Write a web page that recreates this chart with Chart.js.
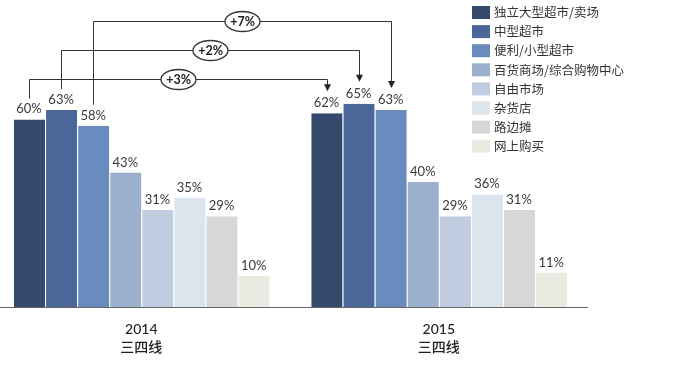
<!DOCTYPE html>
<html><head><meta charset="utf-8">
<script src="https://cdn.jsdelivr.net/npm/chart.js@4"></script>
<style>
html,body{margin:0;padding:0;background:#fff;overflow:hidden;width:680px;height:370px;}
#wrap{position:relative;width:680px;height:370px;overflow:hidden;background:#fff;}
#c{position:absolute;left:-10px;top:0;}
</style></head><body>
<div id="wrap"><canvas id="c" width="690" height="370"></canvas></div>
<script>
const categories = [['2014','三四线'],['2015','三四线']];
const seriesNames = ['独立大型超市/卖场','中型超市','便利/小型超市','百货商场/综合购物中心','自由市场','杂货店','路边摊','网上购买'];
const values2014 = [60,63,58,43,31,35,29,10];
const values2015 = [62,65,63,40,29,36,31,11];
const seriesColors = ['#34496b','#4b6698','#6a8bbd','#9cafcc','#c0cce0','#dce4ee','#d6d7d9','#eaeae3'];
const changeLabels = ['+3%','+2%','+7%'];

const OFFX = 10; // canvas is shifted 10px left of the page

const datasets = seriesNames.map((name, i) => ({
  label: name,
  data: [values2014[i], values2015[i]],
  backgroundColor: seriesColors[i],
  borderColor: 'rgba(255,255,255,0.7)',
  borderWidth: {left: 1, right: 0, top: 0, bottom: 0},
  categoryPercentage: 0.863,
  barPercentage: 1.0
}));

const valueLabels = {
  id: 'valueLabels',
  afterDatasetsDraw(chart) {
    const ctx = chart.ctx;
    ctx.save();
    ctx.font = '13px Lato, "Noto Sans"';
    ctx.fillStyle = '#3a3a3a';
    ctx.textAlign = 'center';
    ctx.textBaseline = 'alphabetic';
    chart.data.datasets.forEach((ds, di) => {
      const meta = chart.getDatasetMeta(di);
      meta.data.forEach((bar, j) => {
        ctx.fillText(ds.data[j] + '%', bar.x, bar.y - 6);
      });
    });
    ctx.restore();
  }
};

const changeArrows = {
  id: 'changeArrows',
  afterDatasetsDraw(chart) {
    const ctx = chart.ctx;
    const yScale = chart.scales.y;
    const levels = [73.0, 82.3, 91.4];
    ctx.save();
    for (let k = changeLabels.length - 1; k >= 0; k--) {
      const meta = chart.getDatasetMeta(k);
      const b1 = meta.data[0], b2 = meta.data[1];
      const yl = Math.round(yScale.getPixelForValue(levels[k])) + 0.5;
      const x1 = Math.round(b1.x) + 0.5, x2 = Math.round(b2.x) + 0.5;
      const leftEnd = b1.y - 21;
      const tip = b2.y - 22;
      ctx.strokeStyle = '#333';
      ctx.lineWidth = 1;
      ctx.beginPath();
      ctx.moveTo(x1, leftEnd);
      ctx.lineTo(x1, yl);
      ctx.lineTo(x2, yl);
      ctx.lineTo(x2, tip - 6);
      ctx.stroke();
      ctx.fillStyle = '#222';
      ctx.beginPath();
      ctx.moveTo(x2 - 3.5, tip - 7);
      ctx.lineTo(x2 + 3.5, tip - 7);
      ctx.lineTo(x2, tip);
      ctx.closePath();
      ctx.fill();
      const cx = (x1 + x2) / 2;
      ctx.beginPath();
      ctx.ellipse(cx, yl, 17.5, 10, 0, 0, Math.PI * 2);
      ctx.fillStyle = '#fff';
      ctx.fill();
      ctx.lineWidth = 1.3;
      ctx.stroke();
      ctx.fillStyle = '#222';
      ctx.font = 'bold 12.5px Lato, "Noto Sans"';
      ctx.textAlign = 'center';
      ctx.textBaseline = 'middle';
      ctx.fillText(changeLabels[k], cx, yl + 0.5);
    }
    ctx.restore();
  }
};

const boxLegend = {
  id: 'boxLegend',
  afterDraw(chart) {
    const ctx = chart.ctx;
    ctx.save();
    ctx.font = '12.5px "Noto Sans CJK SC"';
    ctx.textAlign = 'left';
    ctx.textBaseline = 'middle';
    chart.data.datasets.forEach((ds, i) => {
      const y = 6 + i * 19.1;
      ctx.fillStyle = ds.backgroundColor;
      ctx.fillRect(472 + OFFX, y, 18, 13);
      ctx.fillStyle = '#333';
      ctx.fillText(ds.label, 494 + OFFX, y + 6.5);
    });
    ctx.restore();
  }
};

new Chart(document.getElementById('c'), {
  type: 'bar',
  data: { labels: categories, datasets },
  options: {
    responsive: false,
    devicePixelRatio: 1,
    animation: false,
    layout: { padding: { left: 2.6, right: 92.4, top: 10, bottom: 0 } },
    plugins: { legend: { display: false }, tooltip: { enabled: false } },
    scales: {
      x: {
        grid: { display: false, drawTicks: false },
        border: { display: true, color: '#666', width: 1 },
        ticks: {
          padding: 13.5,
          color: '#222',
          font: { family: 'Lato, "Noto Sans CJK SC"', size: 14, weight: '500', lineHeight: 18 / 14 }
        }
      },
      y: { display: false, min: 0, max: 95 }
    }
  },
  plugins: [valueLabels, changeArrows, boxLegend]
});
</script>
</body></html>
